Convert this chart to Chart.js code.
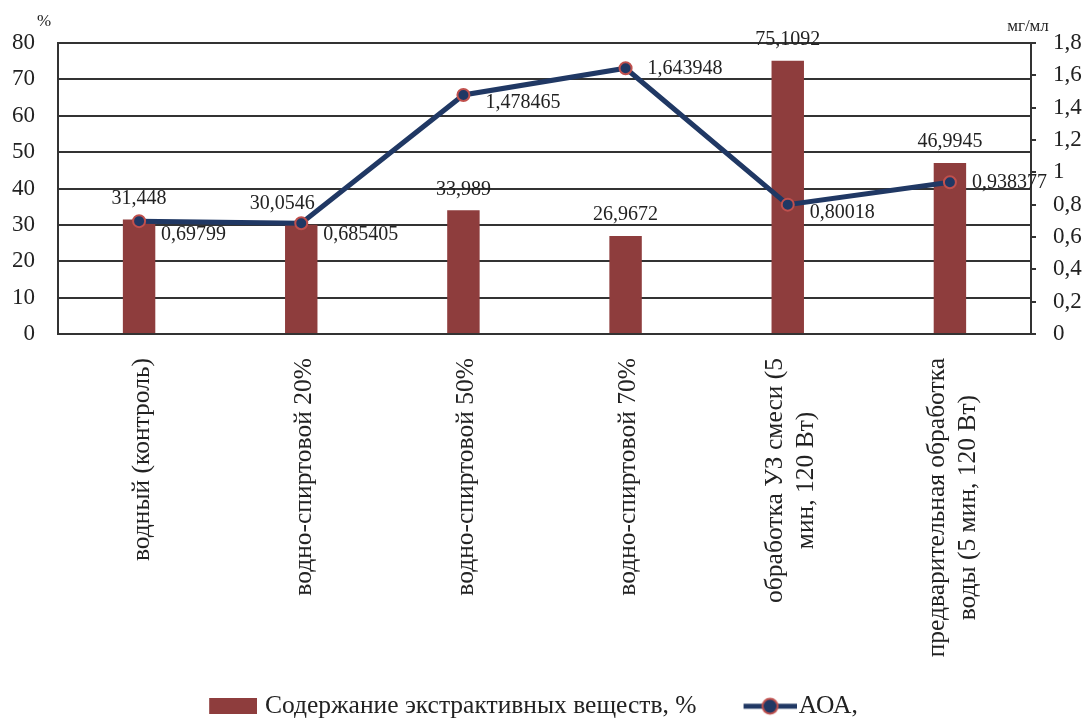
<!doctype html>
<html><head>
<meta charset="utf-8">
<title>Экстракция и АОА</title>
<script src="https://cdn.jsdelivr.net/npm/chart.js"></script>
<style>
  body { margin: 0; background: #fff; }
</style>
</head>
<body>
<canvas id="myChart" width="1086" height="720"></canvas>
<script>
// --- data ---
const categories = [
  ['водный (контроль)'],
  ['водно-спиртовой 20%'],
  ['водно-спиртовой 50%'],
  ['водно-спиртовой 70%'],
  ['обработка УЗ смеси (5', 'мин, 120 Вт)'],
  ['предварительная обработка', 'воды (5 мин, 120 Вт)']
];
const extractValues = [31.448, 30.0546, 33.989, 26.9672, 75.1092, 46.9945];
const aoaValues = [0.69799, 0.685405, 1.478465, 1.643948, 0.80018, 0.938377];
const leftAxis = { min: 0, max: 80, step: 10 };
const rightAxis = { min: 0, max: 1.8, step: 0.2 };
const seriesNames = ['Содержание экстрактивных веществ, %', 'АОА,'];
const unitLeft = '%';
const unitRight = 'мг/мл';

// small label nudges (style only)
const barLabelDx = [0, -19, 0, 0, 0, 0];
const aoaLabelDy = [14, 12, 8, 1, 8, 0];

const barColor = '#8E3D3D';
const lineColor = '#203864';
const markerEdge = '#C0504D';
const textColor = '#222';
const FONT = "'Liberation Serif', 'Times New Roman', serif";

Chart.defaults.font.family = FONT;
Chart.defaults.color = textColor;

const fmt = v => String(v).replace('.', ',');

// legend icons
function barIcon() {
  const c = document.createElement('canvas');
  c.width = 56; c.height = 16;
  const g = c.getContext('2d');
  g.fillStyle = barColor;
  g.fillRect(8, 0, 48, 16);
  return c;
}
function lineIcon() {
  const c = document.createElement('canvas');
  c.width = 67; c.height = 20;
  const g = c.getContext('2d');
  g.strokeStyle = lineColor; g.lineWidth = 5;
  g.beginPath(); g.moveTo(14, 10); g.lineTo(67, 10); g.stroke();
  g.beginPath(); g.arc(40.5, 10, 7.5, 0, Math.PI * 2);
  g.fillStyle = lineColor; g.fill();
  g.lineWidth = 2; g.strokeStyle = markerEdge; g.stroke();
  return c;
}

// value labels
const valueLabels = {
  id: 'valueLabels',
  afterDatasetsDraw(chart) {
    const { ctx } = chart;
    const x = chart.scales.x, y = chart.scales.y, y1 = chart.scales.y1;
    ctx.save();
    ctx.font = '20px ' + FONT;
    ctx.fillStyle = textColor;
    ctx.textBaseline = 'middle';
    ctx.textAlign = 'center';
    extractValues.forEach((v, i) => {
      ctx.fillText(fmt(v), x.getPixelForValue(i) + barLabelDx[i], y.getPixelForValue(v) - 21);
    });
    ctx.textAlign = 'left';
    aoaValues.forEach((v, i) => {
      ctx.fillText(fmt(v), x.getPixelForValue(i) + 22, y1.getPixelForValue(v) + aoaLabelDy[i]);
    });
    ctx.restore();
  }
};

// category labels (rotated, centred lines) and units
const axisText = {
  id: 'axisText',
  afterLayout(chart) {
    // nudge the legend a little left, as in the original
    if (chart.legend) { chart.legend.left -= 11; chart.legend.right -= 11; }
  },
  afterDraw(chart) {
    const { ctx, chartArea } = chart;
    const x = chart.scales.x;
    ctx.save();
    ctx.fillStyle = textColor;
    ctx.font = '25.5px ' + FONT;
    ctx.textBaseline = 'middle';
    ctx.textAlign = 'center';
    categories.forEach((lines, i) => {
      const w = Math.max(...lines.map(s => ctx.measureText(s).width));
      ctx.save();
      ctx.translate(x.getPixelForValue(i) + 3, chartArea.bottom + 24);
      ctx.rotate(-Math.PI / 2);
      lines.forEach((s, k) => ctx.fillText(s, -w / 2, (k - (lines.length - 1) / 2) * 31));
      ctx.restore();
    });
    ctx.font = '17px ' + FONT;
    ctx.fillText(unitLeft, chartArea.left - 14, chartArea.top - 21);
    ctx.fillText(unitRight, chartArea.right - 3, chartArea.top - 16);
    ctx.restore();
  }
};

const ctx = document.getElementById('myChart');
new Chart(ctx, {
  data: {
    labels: categories,
    datasets: [
      {
        type: 'line', label: seriesNames[1], data: aoaValues, yAxisID: 'y1',
        borderColor: lineColor, borderWidth: 5, tension: 0,
        pointRadius: 6, pointHoverRadius: 6,
        pointBackgroundColor: lineColor, pointBorderColor: markerEdge, pointBorderWidth: 2,
        order: 0
      },
      {
        type: 'bar', label: seriesNames[0], data: extractValues, yAxisID: 'y',
        backgroundColor: barColor, barPercentage: 0.2, categoryPercentage: 1,
        order: 1
      }
    ]
  },
  options: {
    responsive: false,
    animation: false,
    layout: { padding: { top: 43, left: 0, right: 0, bottom: 0 } },
    plugins: {
      tooltip: { enabled: false },
      legend: {
        position: 'bottom',
        maxHeight: 70,
        labels: {
          usePointStyle: true,
          pointStyleWidth: 46,
          boxHeight: 16,
          padding: 43.5,
          color: textColor,
          font: { size: 25.5 },
          generateLabels: () => [
            { text: seriesNames[0], pointStyle: barIcon(), fillStyle: barColor, strokeStyle: barColor, lineWidth: 0, hidden: false, datasetIndex: 1, fontColor: textColor },
            { text: seriesNames[1], pointStyle: lineIcon(), fillStyle: lineColor, strokeStyle: lineColor, lineWidth: 0, hidden: false, datasetIndex: 0, fontColor: textColor }
          ]
        }
      }
    },
    scales: {
      x: {
        grid: { display: false },
        border: { display: true, color: '#333', width: 2 },
        ticks: { display: false },
        afterFit: s => { s.height = 316; }
      },
      y: {
        position: 'left',
        min: leftAxis.min, max: leftAxis.max,
        ticks: { stepSize: leftAxis.step, padding: 23, color: textColor, font: { size: 23 } },
        grid: { color: '#333', lineWidth: 2, drawTicks: false },
        border: { color: '#333', width: 2 },
        afterFit: s => { s.width = 58; }
      },
      y1: {
        position: 'right',
        min: rightAxis.min, max: rightAxis.max,
        ticks: {
          stepSize: rightAxis.step, padding: 17, color: textColor, font: { size: 23 },
          callback: v => fmt(Math.round(v * 10) / 10)
        },
        grid: { drawOnChartArea: false, color: '#333', lineWidth: 2, tickLength: 5 },
        border: { color: '#333', width: 2 },
        afterFit: s => { s.width = 55; }
      }
    }
  },
  plugins: [valueLabels, axisText]
});
</script>
</body></html>
